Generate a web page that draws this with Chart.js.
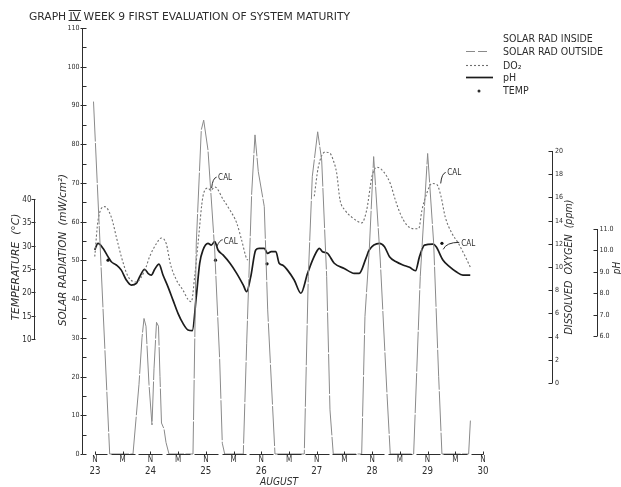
<!DOCTYPE html>
<html>
<head>
<meta charset="utf-8">
<script src="https://cdn.jsdelivr.net/npm/chart.js@4.4.1/dist/chart.umd.min.js"></script>
<style>
  html, body { margin: 0; padding: 0; background: #fff; }
  #wrap { width: 621px; height: 487px; }
</style>
</head>
<body>
<div id="wrap"><canvas id="graph4" width="621" height="487"></canvas></div>
<script>
// x values are hours counted from Aug 23 00:00 (N = noon, M = midnight)
const noonHours = [12, 36, 60, 84, 108, 132, 156, 180]
const dayLabels = ['23', '24', '25', '26', '27', '28', '29', '30']
const midnightHours = [24, 48, 72, 96, 120, 144, 168]

// tick labels of the four y axes
const solarTicks = [0, 10, 20, 30, 40, 50, 60, 70, 80, 90, 100, 110]
const tempTicks = [10, 15, 20, 25, 30, 35, 40]
const doTicks = [0, 2, 4, 6, 8, 10, 12, 14, 16, 18, 20]
const phTicks = [6, 7, 8, 9, 10, 11]

// solar radiation, mW/cm2
const solarHours = [11.35, 18.36, 28.45, 31.05, 32.35, 33.22, 34.08, 35.38, 36.68, 37.55, 38.63, 39.49, 40.14, 40.79, 41.88, 42.74, 44.04,
  54.43, 55.86, 58.03, 59.07, 60.93, 63.83, 65.99, 67.12, 68.16, 76.21, 77.68, 79.85, 81.28, 82.71, 85.30, 86.78, 89.94,
  102.62, 104.36, 106.09, 108.43, 110.16, 112.32, 113.75, 115.18, 127.48, 128.9, 130.77, 132.67, 135.53, 138.43, 139.86,
  149.99, 152.85, 156.05, 158.65, 160.82, 162.24, 173.80, 174.58]
const solarValues = [91, 0, 0, 18, 30, 35, 33, 18, 7.5, 22, 34, 33, 20, 8, 6.5, 3, 0,
  0, 54.5, 83.7, 86.2, 78.5, 52.7, 24.3, 2.8, 0, 0, 28.6, 67.4, 82.4, 72.9, 63.9, 37.2, 0,
  0, 45.8, 71.6, 83.2, 75.9, 45.8, 11.4, 0, 0, 35.5, 52.7, 76.8, 50.1, 15.7, 0,
  0, 45.8, 77.6, 54.5, 20, 0, 0, 8.8]

// dissolved oxygen, ppm (no record during the 26th)
const doHours = [11.9, 13.3, 16.2, 19.06, 21.22, 23.39, 26.29, 29.88, 33.52, 35.68, 38.54, 40.71, 42.87, 44.6, 47.2, 50.1,
  52.27, 53.7, 55.17, 56.6, 58.76, 60.93, 62.1, 63.9, 67.55, 70.45, 73.35, 75.52, 77.68, 78.25, 92,
  106.96, 108.69, 111.59, 113.75, 115.18, 116.65, 118.08, 120.25, 123.15, 126.0, 127.48, 129.64, 131.94, 134.1, 137.0,
  139.86, 142.03, 144.19, 147.09, 149.99, 152.16, 153.59, 155.75, 157.92, 160.08, 161.81, 163.68, 166.58, 169.48, 172.33, 174.5]
const doValues = [10.9, 14.0, 15.2, 14.3, 12.6, 10.9, 9.2, 8.7, 9.7, 10.9, 12.0, 12.5, 12.0, 10.3, 8.9, 8.0,
  7.2, 7.0, 9.2, 12.0, 16.1, 16.8, 16.6, 16.9, 15.8, 14.9, 13.8, 12.3, 10.7, 10.6, null,
  16.1, 18.6, 19.9, 19.8, 19.2, 18.1, 15.8, 14.9, 14.3, 13.9, 13.8, 14.9, 17.8, 18.6, 18.2,
  17.2, 15.8, 14.6, 13.6, 13.3, 13.3, 14.9, 16.4, 17.2, 17.1, 16.1, 14.3, 12.9, 12.0, 10.9, 10.0]

// pH
const phHours = [11.87, 13.3, 15.46, 17.63, 19.06, 21.22, 23.39, 25.55, 27.72, 29.88, 31.35, 33.52, 34.95, 36.38, 37.85,
  39.71, 41.44, 43.61, 45.77, 47.94, 50.1, 52.27, 54.13, 55.86, 57.33, 58.76, 60.93, 62.36, 63.83, 65.26, 67.42, 70.45,
  73.35, 76.21, 77.68, 79.4, 81.6, 83.1, 85.3, 86.73, 88.3, 90.32, 91.75, 93.5, 95.36, 98.26, 101.16, 104.05, 106.21,
  108.38, 109.1, 110.5, 112.7, 115.6, 119.92, 124.25, 126.42, 129.32, 130.75, 135.2, 137.37, 139.53, 142.43, 145.33,
  148.19, 150.79, 152.52, 154.69, 158.32, 159.75, 162.65, 165.51, 168.41, 171.31, 174.5]
const phValues = [10.02, 10.33, 10.10, 9.71, 9.47, 9.32, 9.08, 8.62, 8.38, 8.46, 8.77, 9.12, 8.93, 8.85, 9.12,
  9.36, 8.85, 8.30, 7.68, 7.06, 6.59, 6.28, 6.25, 7.84, 9.40, 10.02, 10.33, 10.25, 10.41, 10.02, 9.79, 9.40,
  8.93, 8.38, 8.07, 8.75, 10.02, 10.10, 10.10, 9.86, 9.94, 9.94, 9.40, 9.30, 9.08, 8.62, 8.00, 8.93, 9.55,
  10.02, 10.10, 9.94, 9.86, 9.40, 9.16, 8.93, 8.93, 9.63, 10.02, 10.33, 10.17, 9.71, 9.47, 9.32,
  9.21, 9.05, 9.71, 10.25, 10.29, 10.17, 9.55, 9.24, 9.00, 8.85, 8.85]

// water temperature, deg C
const tempHours = [17.63, 64.17, 86.5, 162.24]
const tempValues = [26.9, 26.9, 26.1, 30.5]

// calibration notes: [hour, value, axis]
const calNotes = [[62.5, 16.8, 'yDO'], [64.7, 10.17, 'ypH'], [161.7, 17.2, 'yDO'], [162.8, 10.05, 'ypH']]

const FONT = "'DejaVu Sans Condensed', 'Liberation Sans Narrow', 'DejaVu Sans', sans-serif"
const INK = '#2d2d2d'

function pts(xs, ys) {
  return xs.map(function (h, i) { return { x: h, y: ys[i] } })
}

function seg(ctx, x1, y1, x2, y2) {
  ctx.beginPath()
  ctx.moveTo(x1, y1)
  ctx.lineTo(x2, y2)
  ctx.stroke()
}

// squeeze text to the width it has on the scan (width 0 = keep, k = fixed factor)
function fitText(ctx, text, x, y, width, align, kFixed) {
  const w = ctx.measureText(text).width
  const k = kFixed || (width ? width / w : 1)
  ctx.save()
  ctx.translate(x, y)
  ctx.scale(k, 1)
  ctx.textAlign = 'left'
  let ox = 0
  if (align === 'right') ox = -w
  if (align === 'center') ox = -w / 2
  ctx.fillText(text, ox, 0)
  ctx.restore()
  return w * k
}

function vText(ctx, text, cx, cy, length) {
  ctx.save()
  ctx.translate(cx, cy)
  ctx.rotate(-Math.PI / 2)
  ctx.textBaseline = 'middle'
  fitText(ctx, text, 0, 0, length, 'center')
  ctx.restore()
}

const decor = {
  id: 'decor',
  afterDraw(chart) {
    const ctx = chart.ctx
    const s = chart.scales
    const area = chart.chartArea
    ctx.save()
    ctx.strokeStyle = INK
    ctx.fillStyle = INK
    ctx.lineWidth = 1
    ctx.textBaseline = 'alphabetic'

    // title
    ctx.font = '11px ' + FONT
    const k = 321 / ctx.measureText('GRAPH IV WEEK 9 FIRST EVALUATION OF SYSTEM MATURITY').width
    fitText(ctx, 'GRAPH IV WEEK 9 FIRST EVALUATION OF SYSTEM MATURITY', 29, 20, 321)
    const ivX = 29 + ctx.measureText('GRAPH ').width * k
    const ivW = ctx.measureText('IV').width * k
    seg(ctx, ivX - 1, 10.5, ivX + ivW + 1, 10.5)
    seg(ctx, ivX - 1, 20.5, ivX + ivW + 1, 20.5)

    // solar radiation axis
    const sx = area.left - 0.5
    seg(ctx, sx, s.ySolar.getPixelForValue(110), sx, s.ySolar.getPixelForValue(0) + 0.5)
    ctx.font = '7px ' + FONT
    ctx.textBaseline = 'middle'
    for (let v = 0; v <= 110; v += 5) {
      const y = Math.round(s.ySolar.getPixelForValue(v)) + 0.5
      seg(ctx, sx, y, sx + 4, y)
    }
    solarTicks.forEach(function (v) {
      const y = Math.round(s.ySolar.getPixelForValue(v)) + 0.5
      seg(ctx, sx - 2, y, sx, y)
      ctx.textAlign = 'right'
      ctx.fillText(String(v), sx - 3, y)
    })
    ctx.font = 'italic 11px ' + FONT
    vText(ctx, 'SOLAR RADIATION  (mW/cm²)', 63, 250, 152)

    // temperature axis
    const tx = 34.5
    seg(ctx, tx, s.yTemp.getPixelForValue(40), tx, s.yTemp.getPixelForValue(10))
    ctx.font = '8px ' + FONT
    tempTicks.forEach(function (v) {
      const y = Math.round(s.yTemp.getPixelForValue(v)) + 0.5
      seg(ctx, tx - 3, y, tx + 1, y)
      ctx.textAlign = 'right'
      ctx.fillText(String(v), tx - 3, y)
    })
    ctx.font = 'italic 10px ' + FONT
    vText(ctx, 'TEMPERATURE  (°C)', 16.5, 267, 107)

    // dissolved oxygen axis
    const dx = area.right + 0.5
    seg(ctx, dx, s.yDO.getPixelForValue(20), dx, s.yDO.getPixelForValue(0))
    ctx.font = '7px ' + FONT
    doTicks.forEach(function (v) {
      const y = Math.round(s.yDO.getPixelForValue(v)) + 0.5
      seg(ctx, dx - 4, y, dx, y)
      ctx.textAlign = 'left'
      ctx.fillText(String(v), dx + 2.5, y)
    })
    ctx.font = 'italic 10px ' + FONT
    vText(ctx, 'DISSOLVED  OXYGEN  (ppm)', 569, 267, 135)

    // pH axis
    const px = 597.5
    seg(ctx, px, s.ypH.getPixelForValue(11), px, s.ypH.getPixelForValue(6))
    ctx.font = '7px ' + FONT
    phTicks.forEach(function (v) {
      const y = Math.round(s.ypH.getPixelForValue(v)) + 0.5
      seg(ctx, px - 4, y, px, y)
      ctx.textAlign = 'left'
      ctx.fillText(v.toFixed(1), px + 2, y)
    })
    ctx.font = 'italic 10px ' + FONT
    vText(ctx, 'pH', 617, 268, 0)

    // time axis: short baseline pieces around every N and M tick
    const by = Math.round(s.ySolar.getPixelForValue(0)) + 0.5
    const allTicks = noonHours.concat(midnightHours).sort(function (a, b) { return a - b })
    allTicks.forEach(function (h, i) {
      const x = Math.round(s.x.getPixelForValue(h)) + 0.5
      const a = i === 0 ? x : x - 12
      const b = i === allTicks.length - 1 ? x : x + 12
      seg(ctx, a, by, b, by)
      seg(ctx, x, by - 3, x, by)
    })
    ctx.textBaseline = 'alphabetic'
    ctx.font = '8px ' + FONT
    noonHours.forEach(function (h) {
      fitText(ctx, 'N', s.x.getPixelForValue(h), 462, 0, 'center')
    })
    midnightHours.forEach(function (h) {
      fitText(ctx, 'M', s.x.getPixelForValue(h), 462, 0, 'center')
    })
    ctx.font = '11px ' + FONT
    noonHours.forEach(function (h, i) {
      fitText(ctx, dayLabels[i], s.x.getPixelForValue(h), 474, 11, 'center')
    })
    ctx.font = 'italic 10px ' + FONT
    fitText(ctx, 'AUGUST', 279, 485, 38, 'center')

    // CAL marks
    ctx.font = '8px ' + FONT
    calNotes.forEach(function (c) {
      const x0 = s.x.getPixelForValue(c[0])
      const y0 = s[c[2]].getPixelForValue(c[1])
      ctx.beginPath()
      if (c[2] === 'yDO') {
        ctx.moveTo(x0, y0)
        ctx.quadraticCurveTo(x0 + 1, y0 - 10, x0 + 5, y0 - 11)
        ctx.stroke()
        fitText(ctx, 'CAL', x0 + 6.5, y0 - 8, 14)
      } else {
        ctx.moveTo(x0, y0)
        ctx.quadraticCurveTo(x0 + 3, y0 - 7, x0 + 6 + (c[0] > 100 ? 10 : 0), y0 - 7)
        ctx.stroke()
        fitText(ctx, 'CAL', x0 + 7 + (c[0] > 100 ? 11 : 0), y0 - 3, 14)
      }
    })

    // legend, right top, built from the datasets
    ctx.font = '10px ' + FONT
    const lk = 100 / ctx.measureText('SOLAR RAD OUTSIDE').width
    const rows = [42, 55, 69, 81, 94]
    chart.data.datasets.forEach(function (ds, i) {
      const y = rows[i]
      const my = y - 3.5
      if (ds.showLine === false) {
        ctx.beginPath()
        ctx.arc(479, my + 0.5, 1.5, 0, Math.PI * 2)
        ctx.fill()
      } else {
        ctx.save()
        ctx.strokeStyle = ds.borderColor
        ctx.lineWidth = ds.borderWidth
        ctx.setLineDash(ds.legendDash || [])
        seg(ctx, 466, my, i === 3 ? 493 : 489, my)
        ctx.restore()
      }
      ctx.textBaseline = 'alphabetic'
      fitText(ctx, ds.label, 503, y, 0, 'left', lk)
    })
    ctx.restore()
  }
}

const data = {
  datasets: [{
    label: 'SOLAR RAD INSIDE',
    data: [],
    borderColor: 'rgba(0,0,0,0)',
    borderWidth: 1,
    yAxisID: 'ySolar'
  }, {
    label: 'SOLAR RAD OUTSIDE',
    data: pts(solarHours, solarValues),
    borderColor: '#8a8a8a',
    borderWidth: 1,
    borderDash: [40, 1.5],
    legendDash: [9, 3],
    yAxisID: 'ySolar',
    clip: false
  }, {
    label: 'DO₂',
    data: pts(doHours, doValues),
    borderColor: '#6e6e6e',
    borderWidth: 1.1,
    borderDash: [2, 2],
    legendDash: [2, 2],
    cubicInterpolationMode: 'monotone',
    spanGaps: false,
    yAxisID: 'yDO'
  }, {
    label: 'pH',
    data: pts(phHours, phValues),
    borderColor: '#1c1c1c',
    borderWidth: 1.7,
    cubicInterpolationMode: 'monotone',
    yAxisID: 'ypH'
  }, {
    label: 'TEMP',
    data: pts(tempHours, tempValues),
    showLine: false,
    pointRadius: 1.6,
    pointBackgroundColor: '#111',
    pointBorderWidth: 0,
    yAxisID: 'yTemp'
  }]
}

const config = {
  type: 'line',
  data,
  options: {
    responsive: false,
    animation: false,
    devicePixelRatio: 1,
    layout: { padding: { left: 83, right: 69, top: 28, bottom: 33 } },
    elements: { point: { radius: 0 } },
    plugins: { legend: { display: false }, tooltip: { enabled: false } },
    scales: {
      x: { type: 'linear', min: 6.8, max: 209.9, display: false },
      ySolar: { type: 'linear', min: 0, max: 110, display: false },
      yTemp: { type: 'linear', min: -14.64, max: 76.64, display: false },
      yDO: { type: 'linear', min: -6.12, max: 30.6, display: false },
      ypH: { type: 'linear', min: 0.49, max: 20.39, display: false }
    }
  },
  plugins: [decor]
}

const myChart = new Chart(document.getElementById('graph4'), config)
</script>
</body>
</html>
